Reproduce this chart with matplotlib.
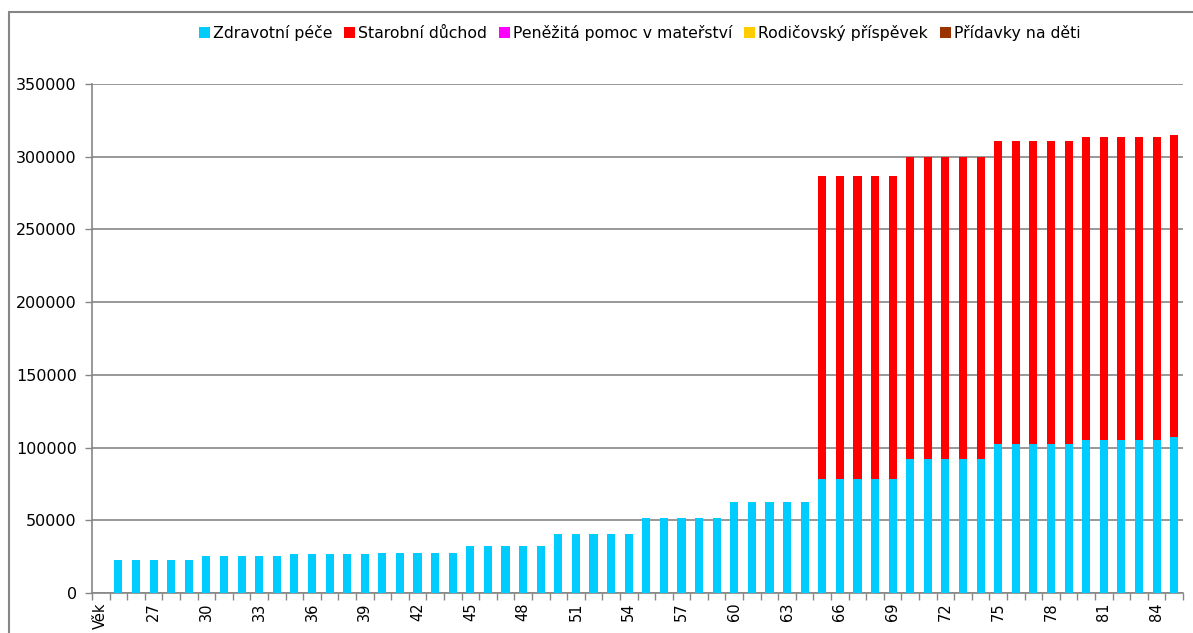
import matplotlib
matplotlib.use("Agg")
import matplotlib.pyplot as plt
from matplotlib.patches import Patch, Rectangle
import numpy as np

plt.rcParams['font.family'] = ['DejaVu Sans']

categories = ["Věk"] + [str(a) for a in range(25, 86)]

zdravotni = [0,
             22600, 22600, 22600, 22600, 22600,
             25400, 25400, 25400, 25400, 25400,
             26700, 26700, 26700, 26700, 26700,
             27400, 27400, 27400, 27400, 27400,
             32300, 32300, 32300, 32300, 32300,
             40500, 40500, 40500, 40500, 40500,
             51300, 51300, 51300, 51300, 51300,
             62400, 62400, 62400, 62400, 62400,
             78300, 78300, 78300, 78300, 78300,
             91900, 91900, 91900, 91900, 91900,
             102300, 102300, 102300, 102300, 102300,
             105000, 105000, 105000, 105000, 105000,
             107000]

celkem = [0] * 41 + [286700] * 5 + [299700] * 5 + [310700] * 5 + [313400] * 5 + [314900]
starobni = [max(t - z, 0) if t > 0 else 0 for t, z in zip(celkem, zdravotni)]
materstvi = [0] * len(categories)
rodicovsky = [0] * len(categories)
pridavky = [0] * len(categories)

series_names = ["Zdravotní péče", "Starobní důchod", "Peněžitá pomoc v mateřství",
                "Rodičovský příspěvek", "Přídavky na děti"]
series_values = [zdravotni, starobni, materstvi, rodicovsky, pridavky]
colors = ["#00CCFF", "#FF0000", "#FF00FF", "#FFCC00", "#993300"]

fig = plt.figure(figsize=(11.93, 6.33), dpi=100)
ax = fig.add_axes([92/1193, 1 - 593/633, (1183 - 92)/1193, (593 - 84)/633])

x = np.arange(len(categories))
bottom = np.zeros(len(categories))
for vals, col in zip(series_values, colors):
    v = np.array(vals, dtype=float)
    ax.bar(x, v, width=0.46, bottom=bottom, color=col, zorder=3, linewidth=0)
    bottom += v

ax.set_xlim(-0.5, len(categories) - 0.5)
ax.set_ylim(0, 350000)
ax.set_yticks(np.arange(0, 350001, 50000))
ax.yaxis.grid(True, color="#868686", linewidth=1.2, zorder=0)
ax.tick_params(axis='y', length=5, color="#868686", labelsize=11.5, pad=6, width=1)

ax.set_xticks(x[::3])
ax.set_xticklabels(categories[::3], rotation=90, fontsize=10.5)
ax.set_xticks(np.arange(-0.5, len(categories), 1), minor=True)
ax.tick_params(axis='x', which='major', length=0, pad=7)
ax.tick_params(axis='x', which='minor', length=5, color="#868686", width=1)

for s in ['top', 'right']:
    ax.spines[s].set_visible(False)
for s in ['left', 'bottom']:
    ax.spines[s].set_color("#868686")
    ax.spines[s].set_linewidth(1.2)

handles = [Patch(facecolor=c, edgecolor='none') for c in colors]
fig.legend(handles, series_names, loc='center', bbox_to_anchor=(0.536, 1 - 33/633),
           ncol=5, frameon=False, fontsize=11.3, handlelength=0.7, handleheight=0.7,
           handletextpad=0.2, columnspacing=0.75)

# outer chart frame
fig.patches.append(Rectangle((8.5/1193, -0.1), 1.2, 1 - 12/633 + 0.1,
                             transform=fig.transFigure, fill=False,
                             edgecolor="#868686", linewidth=1.5))

fig.savefig("out.png", dpi=100)
